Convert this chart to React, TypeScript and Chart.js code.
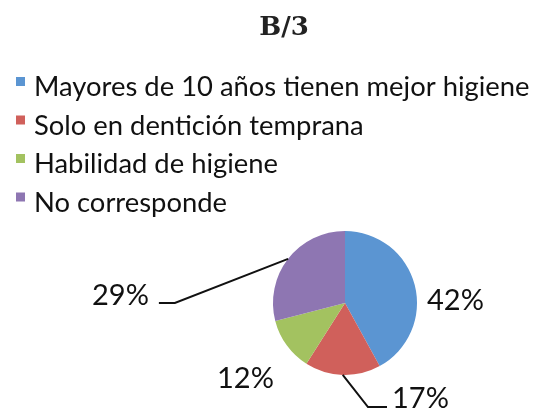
import React, { useEffect, useRef } from "react";
import { Chart, registerables } from "chart.js";

Chart.register(...registerables);

const title = "B/3";
const categories = [
  "Mayores de 10 años tienen mejor higiene",
  "Solo en dentición temprana",
  "Habilidad de higiene",
  "No corresponde",
];
const values = [42, 17, 12, 29];
const valueLabels = ["42%", "17%", "12%", "29%"];
const colors = ["#5B95D2", "#D0605B", "#A3C260", "#8E76B2"];

// label placement (left x, baseline y) relative to the pie centre
const labelOffsets: Array<[number, number]> = [
  [82, 7],
  [47, 105],
  [-128, 85],
  [-253, 2],
];

const overlayPlugin = {
  id: "overlay",
  afterDraw(chart: any) {
    const ctx = chart.ctx as CanvasRenderingContext2D;
    ctx.save();
    // title
    ctx.fillStyle = "#222";
    ctx.font = "bold 26px 'DejaVu Serif'";
    ctx.textAlign = "center";
    ctx.textBaseline = "alphabetic";
    ctx.fillText(title, 284, 35);
    // legend
    ctx.font = "27.4px Lato";
    ctx.textAlign = "left";
    categories.forEach((c, i) => {
      const base = 96 + i * 38.5;
      ctx.fillStyle = colors[i];
      ctx.fillRect(16, base - 19, 9, 9);
      ctx.fillStyle = "#111";
      ctx.fillText(c, 34, base);
    });
    // data labels
    const meta = chart.getDatasetMeta(0);
    ctx.font = "29px Lato";
    ctx.textBaseline = "alphabetic";
    ctx.textAlign = "left";
    ctx.strokeStyle = "#111";
    ctx.lineWidth = 2;
    meta.data.forEach((arc: any, i: number) => {
      const { x, y, outerRadius, startAngle, endAngle } = arc.getProps(
        ["x", "y", "outerRadius", "startAngle", "endAngle"],
        true
      );
      const [dx, dy] = labelOffsets[i];
      const tx = x + dx;
      const ty = y + dy;
      const w = ctx.measureText(valueLabels[i]).width;
      ctx.fillStyle = "#111";
      ctx.fillText(valueLabels[i], tx, ty);
      const mid = (startAngle + endAngle) / 2;
      const ex = x + Math.cos(mid) * outerRadius;
      const ey = y + Math.sin(mid) * outerRadius;
      if (i === 3) {
        ctx.beginPath();
        ctx.moveTo(tx + w + 10, ty - 2);
        ctx.lineTo(tx + w + 26, ty - 2);
        ctx.lineTo(ex, ey);
        ctx.stroke();
      }
      if (i === 1) {
        ctx.beginPath();
        ctx.moveTo(ex, ey);
        ctx.lineTo(tx - 24, ty - 1);
        ctx.lineTo(tx - 5, ty - 1);
        ctx.stroke();
      }
    });
    ctx.restore();
  },
};

export default function App() {
  const ref = useRef<HTMLCanvasElement | null>(null);
  useEffect(() => {
    if (!ref.current) return;
    const chart = new Chart(ref.current, {
      type: "pie",
      data: {
        labels: categories,
        datasets: [
          {
            data: values,
            backgroundColor: colors,
            borderWidth: 0,
          },
        ],
      },
      options: {
        responsive: false,
        animation: false,
        layout: { padding: { left: 273, right: 117, top: 231, bottom: 36 } },
        plugins: {
          legend: { display: false },
          title: { display: false },
          tooltip: { enabled: false },
        },
      },
      plugins: [overlayPlugin],
    });
    return () => chart.destroy();
  }, []);
  return (
    <div style={{ position: "absolute", left: 0, top: 0, width: 534, height: 411, background: "#fff" }}>
      <canvas ref={ref} width={534} height={411} style={{ display: "block" }} />
    </div>
  );
}
